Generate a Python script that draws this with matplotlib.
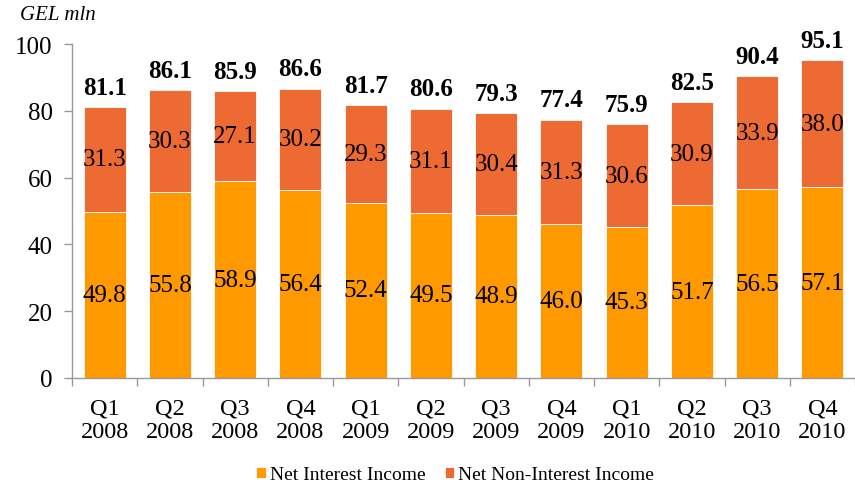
import matplotlib
matplotlib.use("Agg")
import matplotlib.pyplot as plt
import numpy as np

quarters = ["Q1\n2008", "Q2\n2008", "Q3\n2008", "Q4\n2008",
            "Q1\n2009", "Q2\n2009", "Q3\n2009", "Q4\n2009",
            "Q1\n2010", "Q2\n2010", "Q3\n2010", "Q4\n2010"]
net_interest = [49.8, 55.8, 58.9, 56.4, 52.4, 49.5, 48.9, 46.0, 45.3, 51.7, 56.5, 57.1]
net_non_interest = [31.3, 30.3, 27.1, 30.2, 29.3, 31.1, 30.4, 31.3, 30.6, 30.9, 33.9, 38.0]
totals = [81.1, 86.1, 85.9, 86.6, 81.7, 80.6, 79.3, 77.4, 75.9, 82.5, 90.4, 95.1]

c_ni = "#FF9900"
c_nni = "#ED6B33"

plt.rcParams['font.family'] = ['Liberation Serif', 'DejaVu Serif']

fig = plt.figure(figsize=(8.55, 4.85), dpi=100)
ax = fig.add_axes([72/855, 1-379/485, (855-72)/855, (379-45)/485])

x = np.arange(len(quarters))
w = 0.645
ax.bar(x, net_interest, w, color=c_ni, edgecolor="white", linewidth=0.6, label="Net Interest Income")
ax.bar(x, net_non_interest, w, bottom=net_interest, color=c_nni, edgecolor="white", linewidth=0.6,
       label="Net Non-Interest Income")

for i in range(len(x)):
    ax.text(x[i], net_interest[i]/2, f"{net_interest[i]:.1f}", ha="center", va="center", fontsize=18)
    ax.text(x[i], net_interest[i] + net_non_interest[i]/2, f"{net_non_interest[i]:.1f}",
            ha="center", va="center", fontsize=18)
    ax.annotate(f"{totals[i]:.1f}", (x[i], totals[i]), xytext=(0, 6), textcoords="offset points",
                ha="center", va="bottom", fontsize=18, fontweight="bold")

ax.set_xlim(-0.5, len(x) - 0.5)
ax.set_ylim(0, 100)
ax.set_yticks([0, 20, 40, 60, 80, 100])
ax.set_xticks(x)
ax.set_xticklabels(quarters, linespacing=1.15)
ax.set_xticks(np.arange(-0.5, len(x), 1), minor=True)
ax.tick_params(axis="x", which="major", length=0, labelsize=17.5, pad=14)
ax.tick_params(axis="x", which="minor", length=6, color="#999999", width=1)
ax.tick_params(axis="y", length=6, color="#999999", width=1, labelsize=18, pad=8)

for s in ["top", "right"]:
    ax.spines[s].set_visible(False)
for s in ["left", "bottom"]:
    ax.spines[s].set_color("#999999")
    ax.spines[s].set_linewidth(1)

fig.text(20/855, 1-16/485, "GEL mln", fontsize=15, style="italic", va="center", ha="left")

ax.legend(loc="center", bbox_to_anchor=(455/855, 1-476/485), bbox_transform=fig.transFigure,
          ncol=2, frameon=False, fontsize=14, handlelength=0.5, handleheight=0.5,
          handletextpad=0.2, columnspacing=1.0, borderaxespad=0.0, borderpad=0.0)

fig.savefig("out.png", dpi=100)
